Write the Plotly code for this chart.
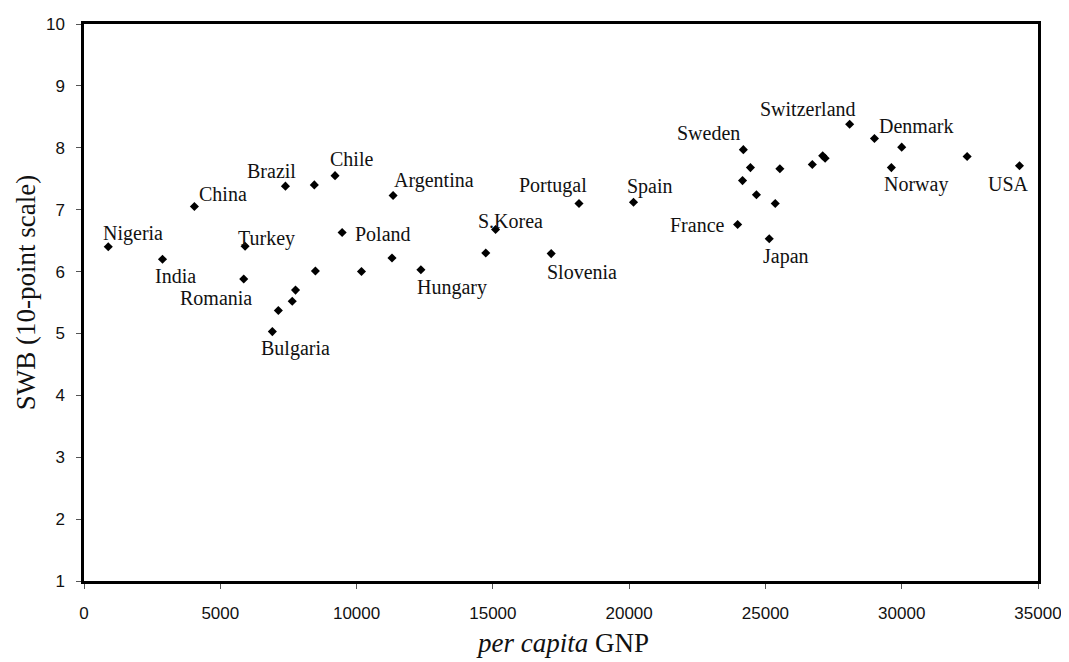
import plotly.graph_objects as go

# ---- data ----
countries = [
    "Nigeria", "India", "China", "Brazil", "", "Chile", "Argentina", "Turkey",
    "Poland", "Romania", "", "", "", "Hungary", "", "", "", "Bulgaria",
    "", "S.Korea", "Slovenia", "Portugal", "Spain", "Switzerland", "Denmark", "",
    "Sweden", "", "", "", "", "", "", "USA", "Norway", "", "", "",
    "France", "Japan",
]
gnp = [
    890, 2880, 4050, 7390, 8450, 9210, 11340, 5910,
    9470, 5860, 11300, 8490, 10180, 12360, 7760, 7640, 7130, 6910,
    14740, 15100, 17140, 18160, 20160, 28090, 29000, 30000,
    24190, 24450, 25530, 26720, 27100, 27190, 32400, 34320, 29620, 24160, 24670, 25360,
    23980, 25140,
]
swb = [
    6.40, 6.20, 7.05, 7.38, 7.40, 7.55, 7.23, 6.41,
    6.63, 5.88, 6.22, 6.01, 6.00, 6.03, 5.70, 5.52, 5.37, 5.03,
    6.30, 6.68, 6.29, 7.10, 7.12, 8.38, 8.15, 8.01,
    7.97, 7.68, 7.66, 7.73, 7.87, 7.83, 7.86, 7.71, 7.68, 7.47, 7.24, 7.10,
    6.76, 6.53,
]
x_ticks = [0, 5000, 10000, 15000, 20000, 25000, 30000, 35000]
y_ticks = [1, 2, 3, 4, 5, 6, 7, 8, 9, 10]

# label offsets in pixels (dx right, dy up) relative to each labelled point
label_offsets = {
    "Nigeria": (25, 13), "India": (13, -17), "China": (29, 13), "Brazil": (-14, 15),
    "Chile": (16, 17), "Argentina": (41, 15), "Turkey": (21, 8), "Poland": (41, -1),
    "Romania": (-28, -19), "Hungary": (31, -18), "Bulgaria": (23, -17),
    "S.Korea": (15, 8), "Slovenia": (31, -18), "Portugal": (-26, 18), "Spain": (16, 16),
    "Switzerland": (-42, 15), "Denmark": (42, 12), "Sweden": (-35, 17),
    "USA": (-11, -18), "Norway": (25, -17), "France": (-40, 0), "Japan": (17, -18),
}

fig = go.Figure()
fig.add_trace(go.Scatter(
    x=gnp, y=swb, mode="markers",
    marker=dict(symbol="diamond", size=7, color="black", line=dict(width=0)),
    hoverinfo="skip", showlegend=False,
))

serif = "Liberation Serif, Times New Roman, serif"
annotations = []
for name, gx, sy in zip(countries, gnp, swb):
    if not name:
        continue
    dx, dy = label_offsets[name]
    annotations.append(dict(
        x=gx, y=sy, xref="x", yref="y", text=name, showarrow=False,
        xshift=dx, yshift=dy, xanchor="center", yanchor="middle",
        font=dict(family=serif, size=20, color="#111111"),
    ))

annotations.append(dict(
    text="<i>per capita</i> GNP", xref="paper", yref="paper",
    x=0.502, y=-0.112, xanchor="center", yanchor="middle", showarrow=False,
    font=dict(family=serif, size=27, color="#111111"),
))
annotations.append(dict(
    text="SWB (10-point scale)", xref="paper", yref="paper",
    x=-0.060, y=0.518, xanchor="center", yanchor="middle", showarrow=False,
    textangle=-90, font=dict(family=serif, size=27, color="#111111"),
))

axis_common = dict(
    showline=True, linecolor="black", linewidth=2.5, mirror=True,
    showgrid=False, zeroline=False, ticks="outside", ticklen=5,
    tickwidth=1, tickcolor="#555555",
    tickfont=dict(family="Liberation Sans, Arial, sans-serif", size=17, color="#111111"),
)

# the page body adds an 8px offset, so the figure is sized to fit the window
fig.update_layout(
    width=1061, height=654,
    margin=dict(l=76, r=27, t=7, b=81),
    paper_bgcolor="white", plot_bgcolor="white",
    xaxis=dict(range=[0, 35000], tickvals=x_ticks, ticktext=[str(v) for v in x_ticks],
               ticklabelstandoff=10, **axis_common),
    yaxis=dict(range=[1, 10], tickvals=y_ticks, ticktext=[str(v) for v in y_ticks],
               ticklabelstandoff=8, **axis_common),
    annotations=annotations,
)

fig.write_html("out.html")
